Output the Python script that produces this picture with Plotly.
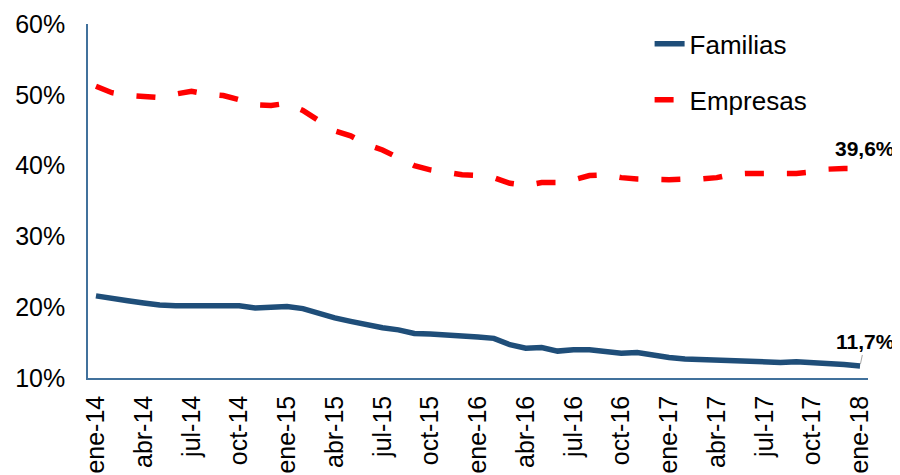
import plotly.graph_objects as go

meses = ["ene", "feb", "mar", "abr", "may", "jun", "jul", "ago", "sep", "oct", "nov", "dic"]
categorias = [f"{meses[i % 12]}-{14 + i // 12}" for i in range(49)]

familias = [
    21.6, 21.2, 20.9, 20.6, 20.3, 20.2, 20.2, 20.2, 20.3, 20.2, 19.9, 20.0,
    20.1, 19.8, 19.1, 18.5, 18.0, 17.5, 17.1, 16.8, 16.3, 16.2, 16.1, 15.9,
    15.8, 15.6, 14.7, 14.2, 14.3, 13.8, 14.0, 14.0, 13.8, 13.5, 13.6, 13.2,
    12.9, 12.7, 12.6, 12.5, 12.5, 12.4, 12.3, 12.2, 12.3, 12.2, 12.0, 11.9,
    11.7,
]
empresas = [
    51.2, 50.3, 49.9, 49.7, 49.6, 50.1, 50.5, 50.1, 49.9, 49.3, 48.6, 48.5,
    48.8, 47.8, 46.4, 44.9, 44.2, 43.0, 42.2, 41.0, 40.0, 39.4, 39.0, 38.7,
    38.6, 38.3, 37.5, 37.2, 37.6, 37.6, 38.0, 38.6, 38.7, 38.3, 38.1, 38.0,
    38.0, 38.1, 38.1, 38.3, 38.8, 38.9, 38.9, 38.8, 38.9, 39.1, 39.5, 39.6,
    39.6,
]
tick_labels = categorias[::3]
etiqueta_fam = "11,7%"
etiqueta_emp = "39,6%"

fam = [v / 100 for v in familias]
emp = [v / 100 for v in empresas]

fig = go.Figure()
fig.add_trace(go.Scatter(
    x=categorias, y=fam, mode="lines", name="Familias",
    line=dict(color="#1F4E79", width=5.5), legendgroup="a",
))
fig.add_trace(go.Scatter(
    x=categorias, y=emp, mode="lines", name="Empresas",
    line=dict(color="#FF0000", width=5.5, dash="19px,23px"), legendgroup="b",
))

fig.add_annotation(
    x=categorias[-1], y=emp[-1], text=f"<b>{etiqueta_emp}</b>",
    showarrow=False, yshift=20, xshift=5,
    font=dict(family="Liberation Sans, Arial", size=21, color="#000000"),
)
fig.add_annotation(
    x=categorias[-1], y=fam[-1], text=f"<b>{etiqueta_fam}</b>",
    showarrow=True, arrowhead=0, arrowwidth=1, arrowcolor="#A6A6A6",
    ax=5, ay=-24, standoff=2,
    font=dict(family="Liberation Sans, Arial", size=21, color="#000000"),
)

# the page body adds an 8px offset, so the figure is sized to fit 900x475
fig.update_layout(
    width=892, height=467,
    margin=dict(l=80, r=32, t=13, b=97),
    paper_bgcolor="white", plot_bgcolor="white",
    font=dict(family="Liberation Sans, Arial", color="#000000"),
    showlegend=True,
    legend=dict(
        x=0.72, y=1.01, xanchor="left", yanchor="top",
        font=dict(size=26, color="#000000"),
        bgcolor="rgba(0,0,0,0)",
        traceorder="grouped", tracegroupgap=19,
    ),
    xaxis=dict(
        type="category", range=[-0.5, 48.5], automargin=False,
        tickvals=tick_labels, ticktext=tick_labels,
        tickangle=-90, tickfont=dict(size=25),
        showline=True, linecolor="#41719C", linewidth=1.5,
        showgrid=False, zeroline=False, ticks="", ticklabelstandoff=6,
    ),
    yaxis=dict(
        range=[0.10, 0.60], automargin=False,
        tickvals=[0.1, 0.2, 0.3, 0.4, 0.5, 0.6],
        ticktext=["10%", "20%", "30%", "40%", "50%", "60%"],
        tickfont=dict(size=25),
        showline=True, linecolor="#41719C", linewidth=1.5,
        showgrid=False, zeroline=False, ticks="", ticklabelstandoff=16,
    ),
)

fig.write_html("out.html")
